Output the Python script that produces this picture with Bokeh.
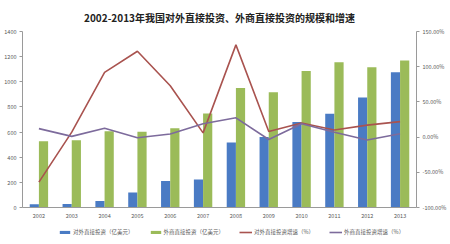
from bokeh.plotting import figure
from bokeh.layouts import column
from bokeh.models import (ColumnDataSource, FactorRange, Range1d, LinearAxis, FixedTicker,
                          PrintfTickFormatter, Legend, LegendItem)
from bokeh.transform import dodge
from bokeh.embed import file_html
from bokeh.resources import INLINE

years = ["2002", "2003", "2004", "2005", "2006", "2007", "2008", "2009", "2010", "2011", "2012", "2013"]
outward_fdi = [25, 27, 52, 120, 210, 222, 518, 560, 680, 745, 875, 1075]
inward_fdi = [527, 535, 606, 603, 630, 748, 950, 916, 1085, 1155, 1115, 1170]
outward_growth = [-64, 7, 92, 122, 73, 6, 131, 8, 20, 10, 17, 22]
inward_growth = [12, 1, 12.7, -1, 4.5, 19, 27.4, -3.4, 19, 7, -4, 4.7]
left_ticks = [0, 200, 400, 600, 800, 1000, 1200, 1400]
right_ticks = [-100, -50, 0, 50, 100, 150]

title = "2002-2013年我国对外直接投资、外商直接投资的规模和增速"
labels = ["对外直接投资（亿美元）", "外商直接投资（亿美元）", "对外直接投资增速（%）", "外商直接投资增速（%）"]

FONT = "Noto Sans CJK SC"
BLUE = "#4a7bc4"
GREEN = "#9bbb59"
RED = "#a9534f"
PURPLE = "#7d6b9c"
AXIS = "#9a9a9a"
TXT = "#595959"

src = ColumnDataSource(dict(year=years, out=outward_fdi, inn=inward_fdi,
                            og=outward_growth, ig=inward_growth))

p = figure(frame_width=394, frame_height=176, output_backend="svg", toolbar_location=None,
           x_range=FactorRange(*years, range_padding=0), y_range=Range1d(0, 1400),
           min_border_left=22, min_border_right=34, min_border_top=31, min_border_bottom=19)
p.extra_y_ranges = {"pct": Range1d(-100, 150)}
p.outline_line_color = None
p.xgrid.visible = False
p.ygrid.visible = False
p.background_fill_color = "white"
p.border_fill_color = "white"

p.title.text = title
p.title.align = "center"
p.title.text_font = FONT
p.title.text_font_size = "10px"
p.title.text_font_style = "bold"
p.title.text_color = "#222222"
p.title.offset = 9
p.title.standoff = 14

b1 = p.vbar(x=dodge("year", -0.14, range=p.x_range), top="out", width=0.28, source=src,
            fill_color=BLUE, line_color=None)
b2 = p.vbar(x=dodge("year", 0.14, range=p.x_range), top="inn", width=0.28, source=src,
            fill_color=GREEN, line_color=None)
l1 = p.line(x="year", y="og", source=src, y_range_name="pct", line_color=RED, line_width=1.6)
l2 = p.line(x="year", y="ig", source=src, y_range_name="pct", line_color=PURPLE, line_width=1.6)

for ax in [p.xaxis[0], p.yaxis[0]]:
    ax.axis_line_color = AXIS
    ax.major_tick_line_color = AXIS
    ax.minor_tick_line_color = None
    ax.major_label_text_font = FONT
    ax.major_label_text_font_size = "5.5px"
    ax.major_label_text_color = TXT

p.xaxis.major_tick_out = 0
p.xaxis.major_tick_in = 0
p.xaxis.major_label_standoff = 5
p.yaxis.ticker = FixedTicker(ticks=left_ticks)
p.yaxis.major_tick_out = 3
p.yaxis.major_tick_in = 0
p.yaxis.major_label_standoff = 3

ra = LinearAxis(y_range_name="pct", ticker=FixedTicker(ticks=right_ticks),
                formatter=PrintfTickFormatter(format="%.2f%%"))
ra.axis_line_color = AXIS
ra.major_tick_line_color = AXIS
ra.minor_tick_line_color = None
ra.major_tick_out = 3
ra.major_tick_in = 0
ra.major_label_standoff = 3
ra.major_label_text_font = FONT
ra.major_label_text_font_size = "5.5px"
ra.major_label_text_color = TXT
p.add_layout(ra, "right")

# legend strip below the chart: same series, drawn out of its (hidden) view range,
# only their legend swatches are visible
lg = figure(width=450, height=18, output_backend="svg", toolbar_location=None,
            x_range=FactorRange(*years, range_padding=0), y_range=Range1d(5000, 6000),
            x_axis_type=None, y_axis_type=None, min_border=0)
lg.outline_line_color = None
lg.xgrid.visible = False
lg.ygrid.visible = False
s1 = lg.vbar(x="year", top="out", width=0.28, source=src, fill_color=BLUE, line_color=None)
s2 = lg.vbar(x="year", top="inn", width=0.28, source=src, fill_color=GREEN, line_color=None)
s3 = lg.line(x="year", y="og", source=src, line_color=RED, line_width=1.6)
s4 = lg.line(x="year", y="ig", source=src, line_color=PURPLE, line_width=1.6)

legend = Legend(items=[LegendItem(label=labels[0], renderers=[s1]),
                       LegendItem(label=labels[1], renderers=[s2]),
                       LegendItem(label=labels[2], renderers=[s3]),
                       LegendItem(label=labels[3], renderers=[s4])],
                orientation="horizontal", location=(36, 8),
                glyph_width=13, glyph_height=4, label_height=8, label_standoff=2,
                spacing=15, padding=0, margin=0,
                border_line_color=None, background_fill_alpha=0,
                label_text_font=FONT, label_text_font_size="5.5px", label_text_color=TXT)
lg.add_layout(legend, "center")

layout = column(p, lg, spacing=0)
open("out.html", "w").write(file_html(layout, INLINE))
